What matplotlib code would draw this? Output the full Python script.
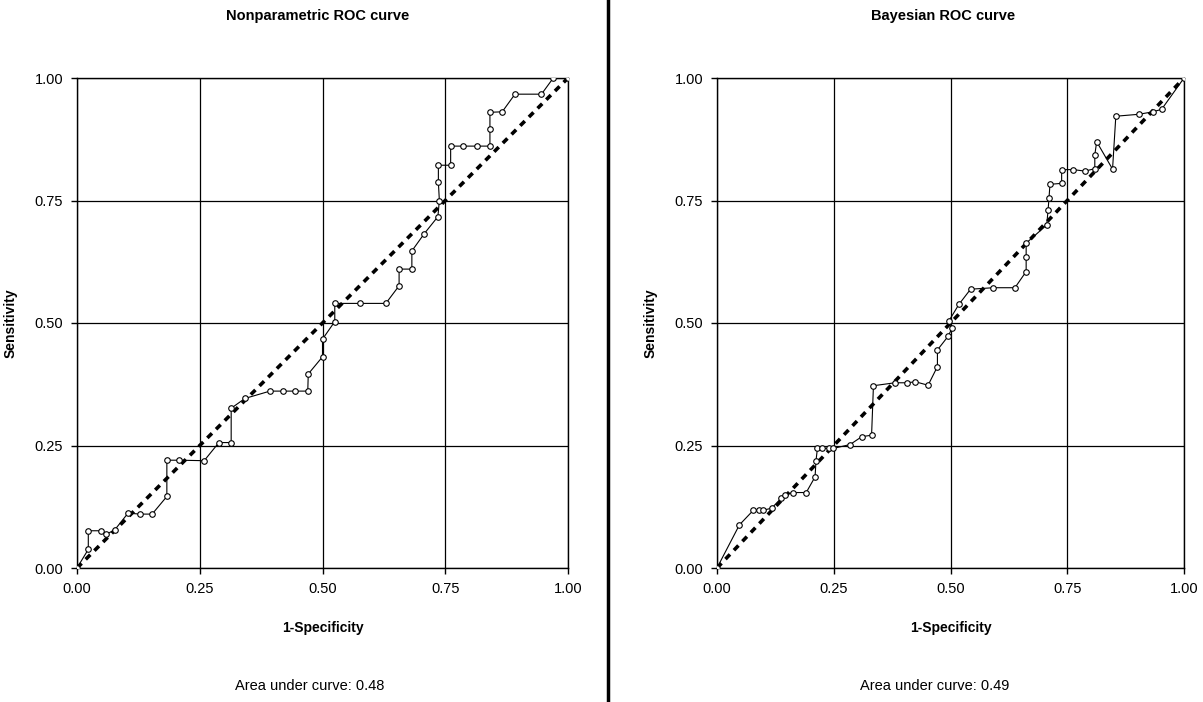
import matplotlib
matplotlib.use("Agg")
import matplotlib.pyplot as plt
from matplotlib.lines import Line2D

plt.rcParams['font.family'] = ['Liberation Sans', 'DejaVu Sans']

# ------------------------------------------------------------
# Data
ticks = [0.0, 0.25, 0.5, 0.75, 1.0]
tick_labels = ["0.00", "0.25", "0.50", "0.75", "1.00"]

np_fpr = [0.0, 0.023, 0.023, 0.048, 0.060, 0.077, 0.104, 0.128, 0.153, 0.183,
          0.183, 0.208, 0.259, 0.289, 0.314, 0.314, 0.342, 0.393, 0.419, 0.445,
          0.470, 0.471, 0.500, 0.500, 0.525, 0.525, 0.576, 0.629, 0.656, 0.656,
          0.682, 0.682, 0.707, 0.735, 0.738, 0.736, 0.736, 0.761, 0.761, 0.787,
          0.814, 0.841, 0.841, 0.841, 0.866, 0.892, 0.946, 0.970, 1.0]
np_tpr = [0.0, 0.038, 0.076, 0.076, 0.069, 0.078, 0.112, 0.110, 0.110, 0.146,
          0.220, 0.220, 0.219, 0.256, 0.256, 0.326, 0.346, 0.361, 0.361, 0.361,
          0.361, 0.396, 0.431, 0.467, 0.503, 0.540, 0.540, 0.540, 0.576, 0.610,
          0.610, 0.647, 0.682, 0.717, 0.750, 0.787, 0.822, 0.822, 0.861, 0.861,
          0.861, 0.861, 0.896, 0.930, 0.931, 0.967, 0.967, 1.0, 1.0]

b_fpr = [0.0, 0.048, 0.078, 0.091, 0.099, 0.117, 0.138, 0.146, 0.163, 0.191,
         0.210, 0.212, 0.215, 0.224, 0.240, 0.249, 0.285, 0.310, 0.331, 0.335,
         0.381, 0.406, 0.425, 0.452, 0.472, 0.472, 0.495, 0.503, 0.497, 0.518,
         0.543, 0.592, 0.638, 0.662, 0.662, 0.662, 0.706, 0.709, 0.711, 0.713,
         0.738, 0.738, 0.763, 0.788, 0.809, 0.809, 0.813, 0.847, 0.854, 0.904,
         0.933, 0.952, 1.0]
b_tpr = [0.0, 0.088, 0.118, 0.118, 0.118, 0.122, 0.143, 0.150, 0.154, 0.154,
         0.186, 0.219, 0.244, 0.244, 0.244, 0.244, 0.252, 0.268, 0.271, 0.372,
         0.378, 0.378, 0.380, 0.373, 0.411, 0.445, 0.473, 0.489, 0.505, 0.538,
         0.569, 0.572, 0.572, 0.605, 0.635, 0.663, 0.700, 0.731, 0.756, 0.783,
         0.785, 0.813, 0.813, 0.810, 0.815, 0.843, 0.870, 0.814, 0.922, 0.926,
         0.931, 0.936, 1.0]

diag = [0.0, 1.0]

titles = ["Nonparametric ROC curve", "Bayesian ROC curve"]
auc_values = [0.48, 0.49]


# ------------------------------------------------------------
def roc_panel(ax, fpr, tpr):
    """
    - Draws one ROC panel in the old Excel look
    """
    # Chance line: thick dashes
    ax.plot(diag, diag, color='black', linewidth=2.6, linestyle=(0, (1.8, 1.6)),
            zorder=3)
    # ROC curve with open circles
    ax.plot(fpr, tpr, color='black', linewidth=0.8, marker='o', markersize=4,
            markerfacecolor='white', markeredgecolor='black',
            markeredgewidth=0.8, zorder=4)

    ax.set_xlim(0, 1)
    ax.set_ylim(0, 1)
    ax.set_xticks(ticks)
    ax.set_yticks(ticks)
    ax.set_xticklabels(tick_labels, fontsize=10.5)
    ax.set_yticklabels(tick_labels, fontsize=10.5)
    ax.tick_params(direction='out', length=4, width=1, pad=6)
    ax.grid(True, color='black', linewidth=0.9)
    ax.set_axisbelow(True)
    for sp in ax.spines.values():
        sp.set_linewidth(1)
    ax.set_xlabel("1-Specificity", fontsize=10, fontweight='bold', labelpad=18)
    ax.set_ylabel("Sensitivity", fontsize=10, fontweight='bold', labelpad=12)


fig = plt.figure(figsize=(12.03, 7.02), dpi=100)

ax1 = fig.add_axes([77/1203, 134/702, 491/1203, 490/702])
ax2 = fig.add_axes([717/1203, 134/702, 467/1203, 490/702])

roc_panel(ax1, np_fpr, np_tpr)
roc_panel(ax2, b_fpr, b_tpr)

# Titles and area text
for ax, title, auc, cx in zip([ax1, ax2], titles, auc_values, [318, 943]):
    fig.text(cx/1203, 1 - 16/702, title, ha='center', va='center',
             fontsize=10.5, fontweight='bold')
    fig.text((cx - 8)/1203, 1 - 686/702, "Area under curve: %.2f" % auc,
             ha='center', va='center', fontsize=10.5)

# Vertical divider between the two panels
fig.add_artist(Line2D([608/1203, 608/1203], [0, 1], color='black',
                      linewidth=2.5, transform=fig.transFigure))

fig.savefig("out.png", dpi=100, facecolor='white')
